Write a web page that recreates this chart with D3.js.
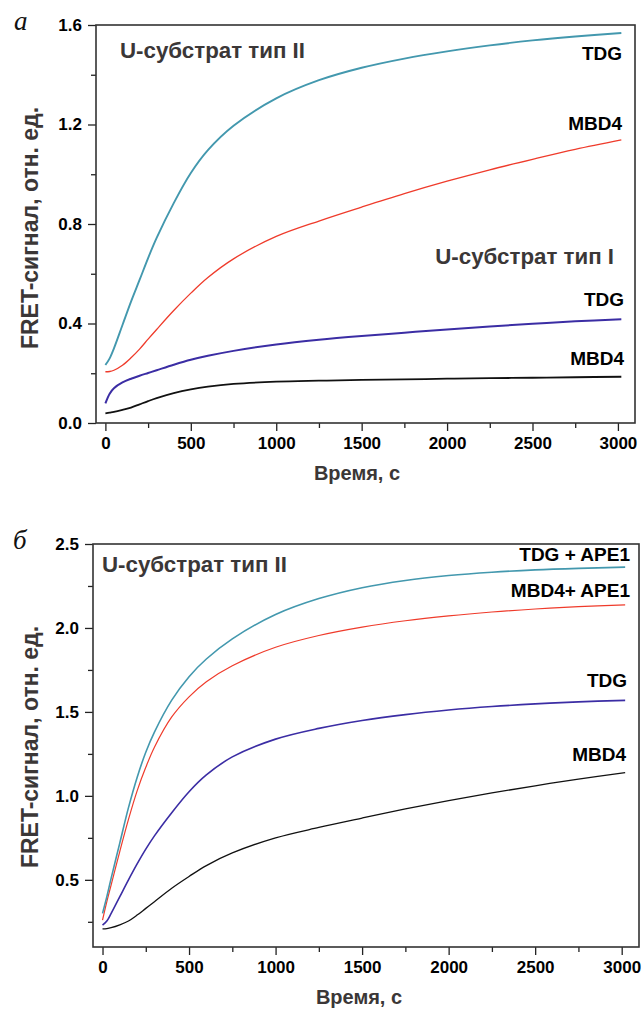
<!DOCTYPE html>
<html><head><meta charset="utf-8">
<script src="https://cdn.jsdelivr.net/npm/d3@7"></script>
<style>
html,body{margin:0;padding:0;background:#fff;}
svg{display:block;}
</style></head>
<body>
<svg id="chart" width="643" height="1009"></svg>
<script>
// ---------- DATA ----------
const timeA = [0,25,50,100,150,200,250,300,400,500,600,750,1000,1250,1500,1750,2000,2250,2500,2750,3020];
const tdgII_A  = [0.233,0.26,0.30,0.394,0.488,0.575,0.663,0.744,0.884,1.005,1.097,1.195,1.305,1.378,1.428,1.465,1.494,1.518,1.538,1.554,1.568];
const mbd4II_A = [0.206,0.207,0.212,0.232,0.262,0.297,0.337,0.376,0.452,0.522,0.585,0.660,0.750,0.812,0.868,0.922,0.972,1.018,1.060,1.100,1.138];
const tdgI_A   = [0.079,0.118,0.140,0.163,0.178,0.190,0.201,0.212,0.234,0.254,0.270,0.290,0.316,0.335,0.350,0.363,0.376,0.388,0.399,0.409,0.417];
const mbd4I_A  = [0.039,0.042,0.045,0.053,0.062,0.075,0.088,0.100,0.120,0.135,0.146,0.157,0.166,0.170,0.173,0.175,0.178,0.180,0.182,0.184,0.186];

const timeB = [0,25,50,100,150,200,250,300,400,500,600,750,1000,1250,1500,1750,2000,2250,2500,2750,3020];
const tdgApe_B  = [0.30,0.40,0.51,0.72,0.93,1.11,1.26,1.38,1.57,1.71,1.815,1.935,2.08,2.175,2.24,2.283,2.312,2.332,2.346,2.355,2.362];
const mbd4Ape_B = [0.26,0.37,0.47,0.67,0.86,1.03,1.17,1.29,1.47,1.59,1.68,1.775,1.885,1.955,2.005,2.043,2.072,2.095,2.113,2.127,2.138];
const tdg_B     = [0.23,0.255,0.30,0.40,0.50,0.595,0.683,0.762,0.90,1.025,1.125,1.232,1.338,1.402,1.449,1.484,1.511,1.532,1.548,1.56,1.569];
const mbd4_B    = [0.208,0.21,0.215,0.232,0.255,0.29,0.33,0.37,0.45,0.52,0.585,0.66,0.75,0.812,0.868,0.922,0.972,1.018,1.06,1.10,1.138];

const xTicks = [0,500,1000,1500,2000,2500,3000];
const xMinor = [250,750,1250,1750,2250,2750];
const yTicksA = [0.0,0.4,0.8,1.2,1.6];
const yMinorA = [0.2,0.6,1.0,1.4];
const yTicksB = [0.5,1.0,1.5,2.0,2.5];
const yMinorB = [0.25,0.75,1.25,1.75,2.25];

const xTitle = "Время, с";
const yTitle = "FRET-сигнал, отн. ед.";

// ---------- STYLE ----------
const TEAL = "#4398ae", RED = "#ef3b2b", BLUE = "#3b2da4", BLACK = "#111";
const SANS = "'Liberation Sans', Arial, sans-serif";
const SERIF = "'Liberation Serif', 'Times New Roman', serif";
const TITLE_C = "#3b3737";

const svg = d3.select("#chart");

function panel(cfg){
  const g = svg.append("g");
  const x = d3.scaleLinear().domain([-55,3100]).range([cfg.left,cfg.right]);
  const y = d3.scaleLinear().domain(cfg.yDomain).range([cfg.bottom,cfg.top]);

  g.append("g").attr("transform",`translate(0,${cfg.bottom})`)
    .call(d3.axisBottom(x).tickValues(xTicks).tickSize(8).tickSizeOuter(0).tickPadding(6).tickFormat(d3.format("d")));
  g.append("g").attr("transform",`translate(0,${cfg.bottom})`)
    .call(d3.axisBottom(x).tickValues(xMinor).tickSize(5).tickSizeOuter(0).tickFormat(""));
  g.append("g").attr("transform",`translate(${cfg.left},0)`)
    .call(d3.axisLeft(y).tickValues(cfg.yTicks).tickSize(8).tickSizeOuter(0).tickPadding(6).tickFormat(d3.format(".1f")));
  g.append("g").attr("transform",`translate(${cfg.left},0)`)
    .call(d3.axisLeft(y).tickValues(cfg.yMinor).tickSize(5).tickSizeOuter(0).tickFormat(""));
  g.selectAll(".domain").remove();
  g.selectAll(".tick line").attr("stroke","#222").attr("stroke-width",1.3);
  g.selectAll(".tick text").attr("font-family",SANS).attr("font-size",17).attr("font-weight","bold").attr("fill","#000");

  g.append("rect").attr("x",cfg.left).attr("y",cfg.top)
    .attr("width",cfg.right-cfg.left).attr("height",cfg.bottom-cfg.top)
    .attr("fill","none").attr("stroke","#333").attr("stroke-width",1.6);

  const line = d3.line().x(d=>x(d[0])).y(d=>y(d[1])).curve(d3.curveCatmullRom.alpha(0.5));
  cfg.series.forEach(s=>{
    g.append("path").datum(cfg.time.map((t,i)=>[t,s.values[i]]))
      .attr("d",line).attr("fill","none").attr("stroke",s.color).attr("stroke-width",s.w)
      .attr("stroke-linejoin","round");
  });

  cfg.labels.forEach(l=>{
    g.append("text").attr("x",l.x).attr("y",l.y).attr("text-anchor",l.anchor||"end")
      .attr("font-family",SANS).attr("font-weight","bold").attr("font-size",l.size||19)
      .attr("fill",l.color||"#000").text(l.text);
  });

  g.append("text").attr("x",cfg.xTitleX).attr("y",cfg.xTitleY).attr("text-anchor","middle")
    .attr("font-family",SANS).attr("font-weight","bold").attr("font-size",20).attr("fill",TITLE_C).text(xTitle);
  g.append("text").attr("transform",`translate(${cfg.yTitleX},${cfg.yTitleY}) rotate(-90)`).attr("text-anchor","middle")
    .attr("font-family",SANS).attr("font-weight","bold").attr("font-size",23).attr("fill",TITLE_C).text(yTitle);

  g.append("text").attr("x",cfg.letterX).attr("y",cfg.letterY)
    .attr("font-family",SERIF).attr("font-style","italic").attr("font-size",27).attr("fill","#111").text(cfg.letter);
}

panel({
  left:96,right:635,top:25,bottom:423,yDomain:[0,1.6],yTicks:yTicksA,yMinor:yMinorA,time:timeA,
  series:[
    {values:mbd4I_A,color:BLACK,w:1.8},
    {values:tdgI_A,color:BLUE,w:2},
    {values:mbd4II_A,color:RED,w:1.3},
    {values:tdgII_A,color:TEAL,w:1.9}
  ],
  labels:[
    {text:"U-субстрат тип II",x:120,y:58,anchor:"start",size:22.3,color:TITLE_C},
    {text:"TDG",x:622,y:60},
    {text:"MBD4",x:622,y:130},
    {text:"U-субстрат тип I",x:614,y:264,size:22.3,color:TITLE_C},
    {text:"TDG",x:624,y:306},
    {text:"MBD4",x:624,y:365}
  ],
  xTitleX:357,xTitleY:480,yTitleX:38,yTitleY:228,letter:"а",letterX:14,letterY:30
});

panel({
  left:93,right:639,top:544,bottom:947,yDomain:[0.1,2.5],yTicks:yTicksB,yMinor:yMinorB,time:timeB,
  series:[
    {values:mbd4_B,color:BLACK,w:1.3},
    {values:tdg_B,color:BLUE,w:1.6},
    {values:mbd4Ape_B,color:RED,w:1.2},
    {values:tdgApe_B,color:TEAL,w:1.6}
  ],
  labels:[
    {text:"U-субстрат тип II",x:102,y:572,anchor:"start",size:22.3,color:TITLE_C},
    {text:"TDG + APE1",x:630,y:561},
    {text:"MBD4+ APE1",x:630,y:597},
    {text:"TDG",x:627,y:687},
    {text:"MBD4",x:626,y:761}
  ],
  xTitleX:359,xTitleY:1004,yTitleX:38,yTitleY:747,letter:"б",letterX:13,letterY:549
});
</script>
</body></html>
